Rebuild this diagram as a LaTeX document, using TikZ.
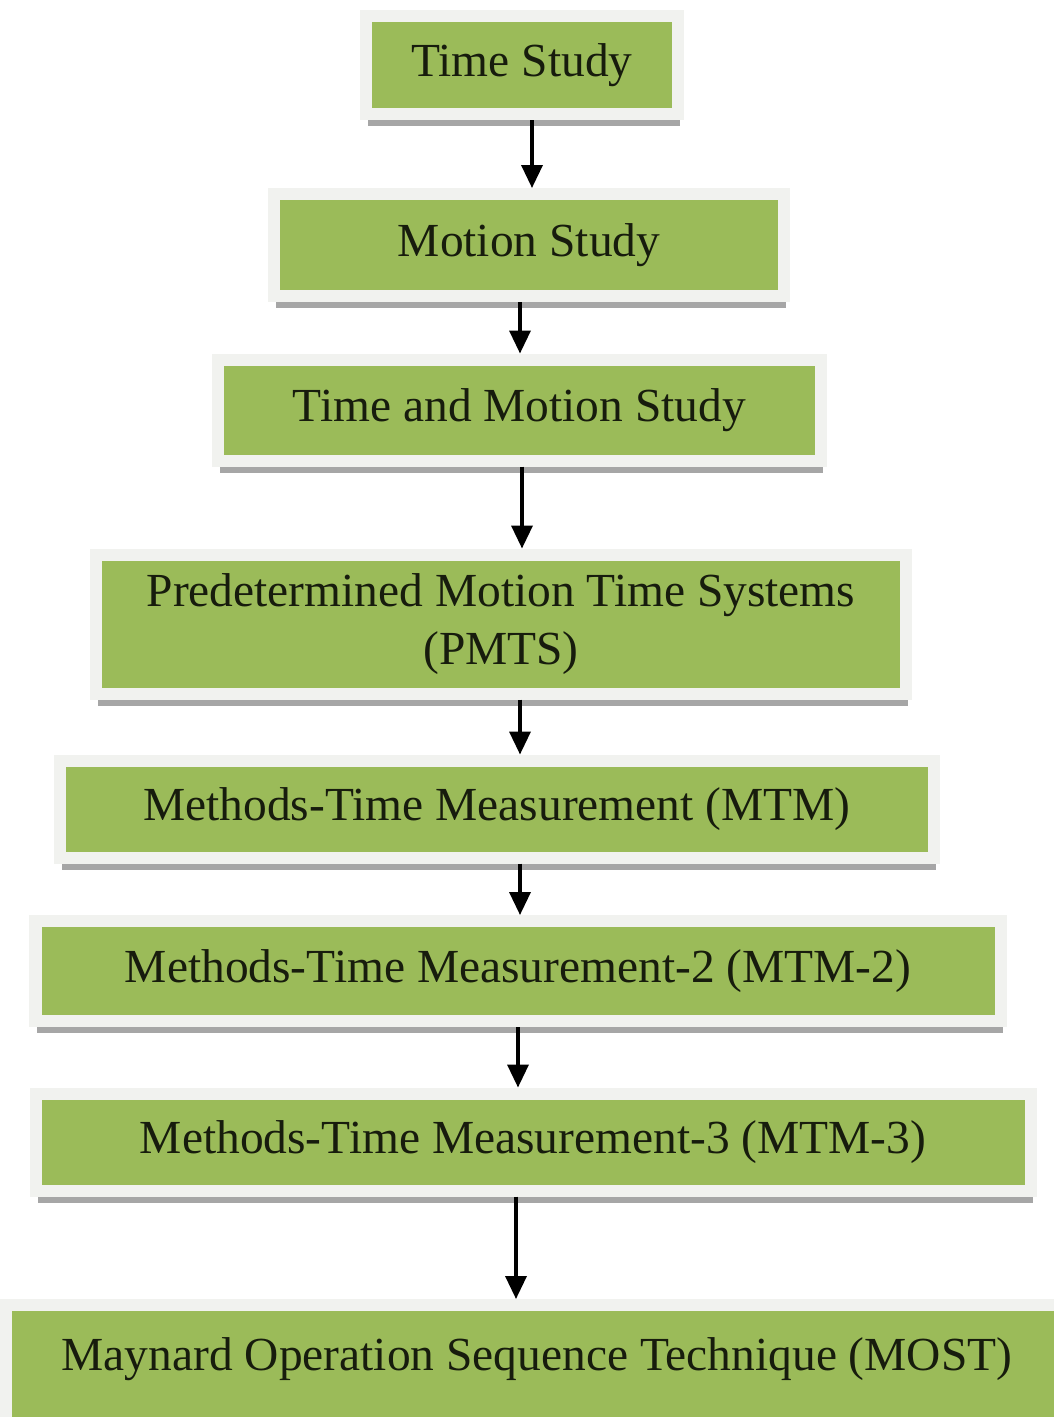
\documentclass[tikz,border=0pt]{standalone}
\usepackage{fontspec}
\setmainfont{Liberation Serif}
\usetikzlibrary{shadows,arrows.meta}
\definecolor{olive}{HTML}{9BBB59}
\definecolor{frame}{HTML}{F1F2EF}
\begin{document}
\begin{tikzpicture}
                [box/.style={rectangle,draw=frame,line width=0.24cm,fill=olive,inner sep=0pt,
                  font=\fontsize{27}{33}\selectfont,text=black!85!olive,
                  drop shadow={shadow xshift=0.04cm,shadow yshift=-0.24cm,fill=black!35,opacity=1}},
                arr/.style={line width=0.07cm,-{Triangle[length=0.46cm,width=0.42cm]}}]
                \fill[white] (0,0) rectangle (21.08,-28.34);
                \useasboundingbox (0,0) rectangle (21.08,-28.34);
                \node[box,minimum width=6.24cm,minimum height=1.96cm] (ts) at (10.44,-1.30) {Time Study};
                \node[box,minimum width=10.2cm,minimum height=2.04cm] (ms) at (10.58,-4.90) {Motion Study};
                \node[box,minimum width=12.06cm,minimum height=2.02cm] (tms) at (10.39,-8.20) {Time and Motion Study};
                \node[box,minimum width=16.2cm,minimum height=2.78cm,align=center] (pmts) at (10.02,-12.48)
                     {Predetermined Motion Time Systems\\(PMTS)};
                \node[box,minimum width=17.48cm,minimum height=1.94cm] (mtm) at (9.94,-16.18) {Methods-Time Measurement (MTM)};
                \node[box,minimum width=19.3cm,minimum height=2.0cm] (mtm2) at (10.36,-19.42) {Methods-Time Measurement-2 (MTM-2)};
                \node[box,minimum width=19.9cm,minimum height=1.94cm] (mtm3) at (10.66,-22.84) {Methods-Time Measurement-3 (MTM-3)};
                \node[box,minimum width=21.24cm,anchor=north,inner ysep=0.45cm,text height=0.85cm,text depth=1.3cm] (most) at (10.74,-25.98)
                     {Maynard Operation Sequence Technique (MOST)};
                % arrows down the chain
                \draw[arr] ([xshift=0.2cm]ts.south) -- ([xshift=0.2cm]ts.south |- ms.north);
                \draw[arr] ([xshift=-0.18cm]ms.south) -- ([xshift=-0.18cm]ms.south |- tms.north);
                \draw[arr] ([xshift=0.05cm]tms.south) -- ([xshift=0.05cm]tms.south |- pmts.north);
                \draw[arr] ([xshift=0.38cm]pmts.south) -- ([xshift=0.38cm]pmts.south |- mtm.north);
                \draw[arr] ([xshift=0.46cm]mtm.south) -- ([xshift=0.46cm]mtm.south |- mtm2.north);
                \draw[arr] (mtm2.south) -- (mtm2.south |- mtm3.north);
                \draw[arr] ([xshift=-0.34cm]mtm3.south) -- ([xshift=-0.34cm]mtm3.south |- most.north);
\end{tikzpicture}
\end{document}
